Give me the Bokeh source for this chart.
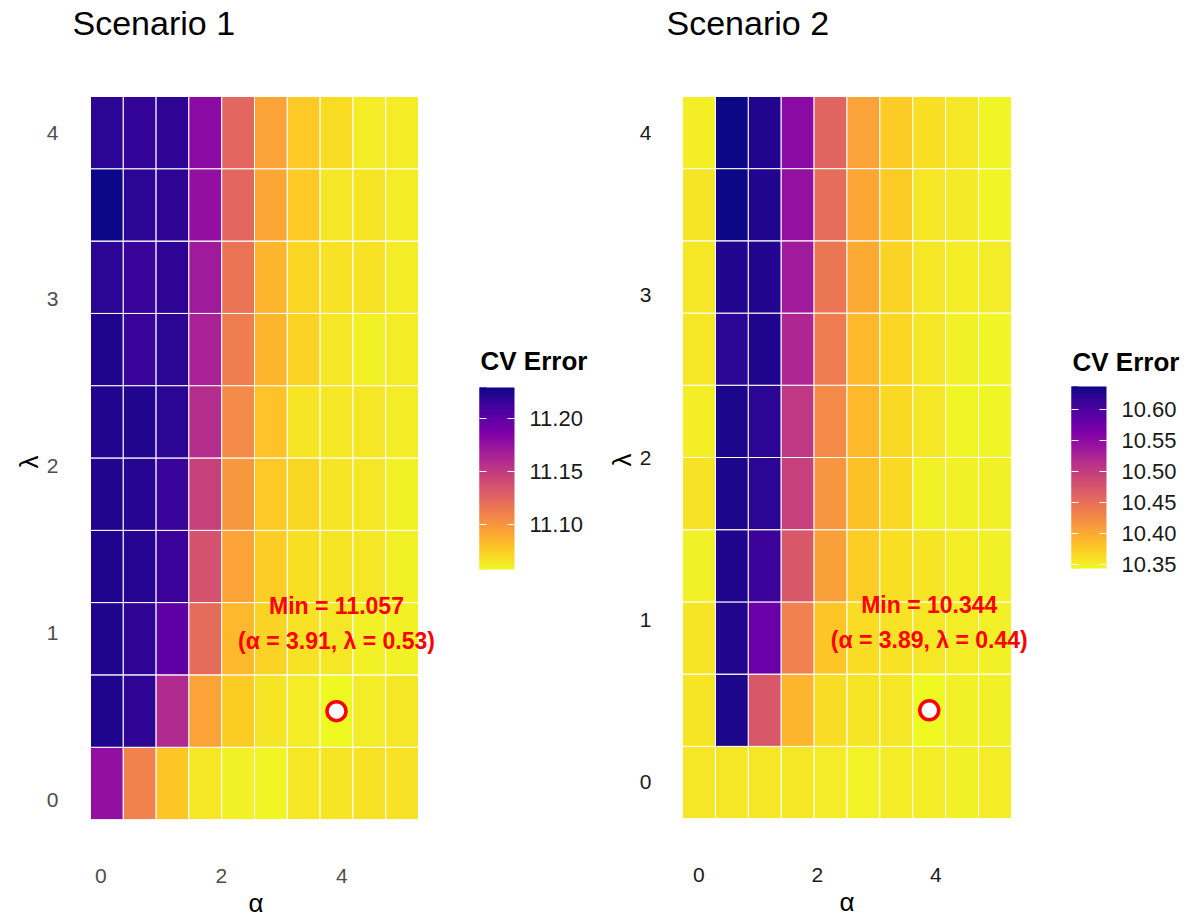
from bokeh.plotting import figure
from bokeh.layouts import row
from bokeh.models import (ColumnDataSource, LinearColorMapper, ColorBar, FixedTicker,
                          PrintfTickFormatter, Range1d, Label, Title)
from bokeh.palettes import Plasma256
from bokeh.embed import file_html
from bokeh.resources import INLINE

FONT = "Liberation Sans"

# ---- Scenario 1: CV error over the (alpha, lambda) grid ----
alpha_1 = [0.1, 0.644, 1.189, 1.733, 2.278, 2.822, 3.367, 3.911, 4.456, 5.0]
lambda_1 = [0.1, 0.533, 0.967, 1.4, 1.833, 2.267, 2.7, 3.133, 3.567, 4.0]
# one row per lambda (bottom to top), one column per alpha
cv_error_1 = [
    [11.176, 11.109, 11.077, 11.064, 11.061, 11.059, 11.064, 11.065, 11.066, 11.066],
    [11.224, 11.219, 11.160, 11.093, 11.075, 11.065, 11.062, 11.057, 11.062, 11.064],
    [11.224, 11.219, 11.200, 11.121, 11.083, 11.072, 11.066, 11.064, 11.061, 11.060],
    [11.224, 11.222, 11.214, 11.136, 11.093, 11.074, 11.067, 11.065, 11.064, 11.060],
    [11.223, 11.222, 11.215, 11.146, 11.098, 11.076, 11.071, 11.065, 11.064, 11.060],
    [11.223, 11.223, 11.220, 11.158, 11.105, 11.079, 11.065, 11.064, 11.064, 11.062],
    [11.224, 11.215, 11.220, 11.165, 11.112, 11.085, 11.072, 11.064, 11.061, 11.062],
    [11.220, 11.215, 11.219, 11.169, 11.117, 11.085, 11.071, 11.066, 11.066, 11.062],
    [11.229, 11.220, 11.219, 11.176, 11.124, 11.091, 11.076, 11.064, 11.065, 11.062],
    [11.220, 11.217, 11.219, 11.179, 11.124, 11.093, 11.076, 11.069, 11.062, 11.062],
]
cbar_ticks_1 = [11.10, 11.15, 11.20]

# ---- Scenario 2 ----
alpha_2 = [0.0, 0.556, 1.111, 1.667, 2.222, 2.778, 3.333, 3.889, 4.444, 5.0]
lambda_2 = [0.0, 0.444, 0.889, 1.333, 1.778, 2.222, 2.667, 3.111, 3.556, 4.0]
cv_error_2 = [
    [10.356, 10.356, 10.356, 10.356, 10.353, 10.348, 10.353, 10.353, 10.350, 10.353],
    [10.357, 10.631, 10.473, 10.391, 10.363, 10.357, 10.356, 10.344, 10.350, 10.350],
    [10.357, 10.627, 10.578, 10.435, 10.379, 10.363, 10.359, 10.356, 10.353, 10.350],
    [10.350, 10.628, 10.611, 10.473, 10.408, 10.373, 10.362, 10.357, 10.353, 10.350],
    [10.359, 10.631, 10.622, 10.496, 10.417, 10.382, 10.366, 10.350, 10.350, 10.350],
    [10.351, 10.631, 10.622, 10.505, 10.426, 10.388, 10.365, 10.356, 10.347, 10.347],
    [10.356, 10.622, 10.628, 10.523, 10.438, 10.388, 10.369, 10.356, 10.350, 10.347],
    [10.356, 10.627, 10.627, 10.534, 10.444, 10.400, 10.370, 10.356, 10.353, 10.353],
    [10.357, 10.637, 10.627, 10.546, 10.452, 10.403, 10.376, 10.356, 10.354, 10.347],
    [10.351, 10.637, 10.627, 10.552, 10.461, 10.406, 10.376, 10.362, 10.356, 10.347],
]
cbar_ticks_2 = [10.35, 10.40, 10.45, 10.50, 10.55, 10.60]

x_ticks = [0, 2, 4]
y_ticks = [0, 1, 2, 3, 4]

FIG_H = 920


def heatmap(title, alphas, lambdas, grid, cbar_ticks, tick_color, geo):
    """geo holds page-pixel positions of the figure, its frame and the tile block."""
    da = alphas[1] - alphas[0]
    dl = lambdas[1] - lambdas[0]
    xs, ys, vs = [], [], []
    for j, lam in enumerate(lambdas):
        for i, a in enumerate(alphas):
            xs.append(a)
            ys.append(lam)
            vs.append(grid[j][i])
    src = ColumnDataSource(dict(alpha=xs, lam=ys, err=vs))
    vmin, vmax = min(vs), max(vs)
    mapper = LinearColorMapper(palette=list(reversed(Plasma256)), low=vmin, high=vmax)

    # tile block in data units, then widen the ranges so the frame also covers
    # the title and legend area (nothing is drawn there but annotations)
    x0, x1 = alphas[0] - da / 2, alphas[-1] + da / 2
    y0, y1 = lambdas[0] - dl / 2, lambdas[-1] + dl / 2
    sx = (geo["tile_r"] - geo["tile_l"]) / (x1 - x0)
    sy = (geo["tile_b"] - geo["tile_t"]) / (y1 - y0)
    f_left, f_right = geo["frame_l"], geo["fig_x"] + geo["fig_w"]
    f_top, f_bot = 0, geo["tile_b"]
    xr = Range1d(x0 - (geo["tile_l"] - f_left) / sx, x1 + (f_right - geo["tile_r"]) / sx)
    yr = Range1d(y0 - (f_bot - geo["tile_b"]) / sy, y1 + (geo["tile_t"] - f_top) / sy)

    p = figure(frame_width=f_right - f_left, frame_height=f_bot - f_top,
               x_range=xr, y_range=yr,
               min_border_left=f_left - geo["fig_x"], min_border_right=0,
               min_border_top=0, min_border_bottom=FIG_H - f_bot,
               output_backend="svg", toolbar_location=None)
    p.rect(x="alpha", y="lam", width=da, height=dl, source=src,
           fill_color={"field": "err", "transform": mapper},
           line_color="white", line_width=1)

    def screen(px, py):
        return px - f_left, f_bot - py

    # minimum marker and its label
    k = vs.index(vmin)
    amin, lmin = xs[k], ys[k]
    p.scatter([amin], [lmin], size=19, fill_color="white", line_color="red", line_width=3.5)
    for txt, dy in ((f"Min = {vmin:.3f}", 105),
                    (f"(\u03b1 = {amin:.2f}, \u03bb = {lmin:.2f})", 70)):
        p.add_layout(Label(x=amin, y=lmin, y_offset=dy, text=txt,
                           text_align="center", text_baseline="middle",
                           text_color="red", text_font=FONT, text_font_style="bold",
                           text_font_size="23px"))

    # panel title
    tx, ty = screen(*geo["title"])
    p.add_layout(Label(x=tx, y=ty, x_units="screen", y_units="screen", text=title,
                       text_align="left", text_baseline="middle",
                       text_font=FONT, text_font_size="34px", text_color="black"))

    p.outline_line_color = None
    p.grid.visible = False
    p.background_fill_color = "white"
    p.border_fill_color = "white"
    for ax in (p.xaxis[0], p.yaxis[0]):
        ax.axis_line_color = None
        ax.major_tick_line_color = None
        ax.minor_tick_line_color = None
        ax.major_label_text_font = FONT
        ax.major_label_text_font_size = "21px"
        ax.major_label_text_color = tick_color
    p.xaxis.ticker = FixedTicker(ticks=x_ticks)
    p.yaxis.ticker = FixedTicker(ticks=y_ticks)
    p.xaxis.major_label_standoff = 43
    p.yaxis.major_label_standoff = geo["ylab_standoff"]
    p.yaxis.major_label_orientation = "horizontal"

    # axis titles, centred on the tile block rather than on the whole frame
    axis_title = dict(text_font=FONT, text_font_size="26px", text_font_style="normal",
                      text_color="black", align="left", standoff=0)
    p.add_layout(Title(text="\u03b1", offset=geo["alpha_left"] - f_left, **axis_title), "below")
    p.add_layout(Title(text="\u03bb", offset=f_bot - geo["lambda_low"], **axis_title), "left")

    # colour legend: gradient bar with labelled ticks on its right edge ...
    bx, by = screen(*geo["cbar"])
    common = dict(color_mapper=mapper, ticker=FixedTicker(ticks=cbar_ticks),
                  height=182, location=(bx, by), margin=0, padding=0, title=None,
                  major_tick_in=7, major_tick_out=0, major_tick_line_color="white",
                  minor_tick_line_color=None, bar_line_color=None,
                  border_line_color=None, background_fill_color=None)
    p.add_layout(ColorBar(width=35, formatter=PrintfTickFormatter(format="%.2f"),
                          major_label_text_font=FONT, major_label_text_font_size="22px",
                          major_label_text_color="#1a1a1a", label_standoff=15,
                          **common), "center")
    # ... and a thin strip over its left edge that carries the matching inner ticks
    p.add_layout(ColorBar(width=7, major_label_overrides={t: "" for t in cbar_ticks},
                          major_label_text_font_size="1px", **common), "center")
    cx, cy = screen(*geo["cbar_title"])
    p.add_layout(Label(x=cx, y=cy, x_units="screen", y_units="screen", text="CV Error",
                       text_align="left", text_baseline="middle",
                       text_font=FONT, text_font_size="26px", text_font_style="bold",
                       text_color="black"))
    return p


geo_1 = dict(fig_x=0, fig_w=595, frame_l=66, tile_l=90, tile_r=418, tile_t=96, tile_b=819,
             ylab_standoff=2, title=(72, 22), cbar=(479, 569), cbar_title=(480, 360),
             alpha_left=248, lambda_low=468)
geo_2 = dict(fig_x=595, fig_w=594, frame_l=662, tile_l=682, tile_r=1011, tile_t=96, tile_b=818,
             ylab_standoff=5, title=(666, 22), cbar=(1071, 568), cbar_title=(1072, 361),
             alpha_left=839, lambda_low=466)

p1 = heatmap("Scenario 1", alpha_1, lambda_1, cv_error_1, cbar_ticks_1, "#4d4d4d", geo_1)
p2 = heatmap("Scenario 2", alpha_2, lambda_2, cv_error_2, cbar_ticks_2, "#1a1a1a", geo_2)

page = row(p1, p2)
open("out.html", "w").write(file_html(page, INLINE))
